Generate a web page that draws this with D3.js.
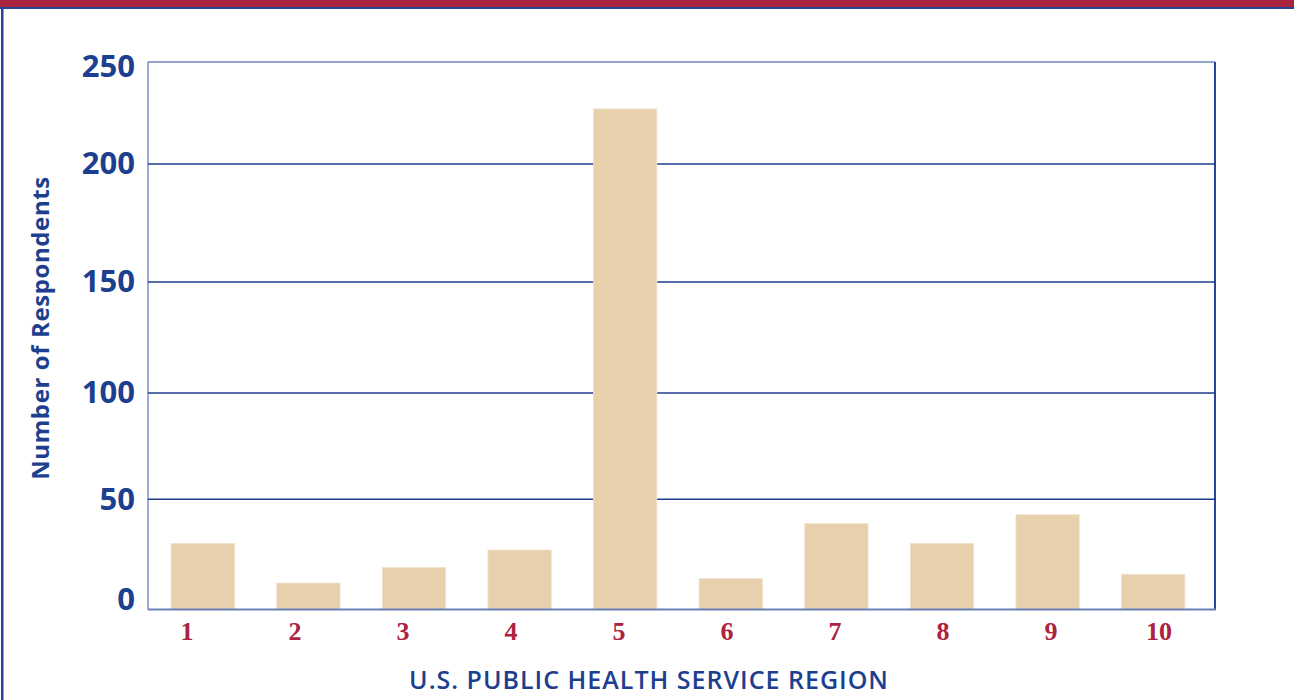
<!DOCTYPE html>
<html><head><meta charset="utf-8">
<script src="https://cdn.jsdelivr.net/npm/d3@7"></script>
<style>html,body{margin:0;padding:0;background:#fff;}svg{display:block;}</style>
</head><body>
<script>
const regions = ["1","2","3","4","5","6","7","8","9","10"];
const respondents = [30, 12, 19, 27, 227, 14, 39, 30, 43, 16];
const yTicks = [0, 50, 100, 150, 200, 250];
const yTitle = "Number of Respondents";
const xTitle = "U.S. PUBLIC HEALTH SERVICE REGION";

const W = 1294, H = 700;
const blue = "#1d3f8f", red = "#ac2240", bar = "#e7d1ac";
const svg = d3.select("body").append("svg").attr("width", W).attr("height", H);

// page frame
svg.append("rect").attr("x",0).attr("y",0).attr("width",W).attr("height",7).attr("fill","#a8263d");
svg.append("rect").attr("x",0).attr("y",7).attr("width",W).attr("height",2).attr("fill","#25449a");
svg.append("rect").attr("x",1).attr("y",7).attr("width",2.5).attr("height",H-7).attr("fill","#25449a");

const L = 148, R = 1215, T = 62, B = 609.5;
// the reference grid is slightly uneven; piecewise-linear scale reproduces it
const y = d3.scaleLinear().domain(yTicks).range([B, 499.3, 393, 282, 164, T]);
const x = d3.scaleBand().domain(regions).range([150, 1206]).paddingInner(0.4).paddingOuter(0.2);
const xl = d3.scalePoint().domain(regions).range([187, 1159]);

// frame
svg.append("line").attr("x1",L).attr("x2",L).attr("y1",T).attr("y2",B).attr("stroke","#5a74b4").attr("stroke-width",1.2);
svg.append("line").attr("x1",L).attr("x2",R).attr("y1",T).attr("y2",T).attr("stroke","#2d4b9c").attr("stroke-width",1.2);
svg.append("line").attr("x1",R).attr("x2",R).attr("y1",T).attr("y2",B).attr("stroke","#25449a").attr("stroke-width",2);

// gridlines
svg.append("g").selectAll("line").data(yTicks.filter(d => d > 0 && d < 250)).join("line")
  .attr("x1",L).attr("x2",R).attr("y1",d=>y(d)).attr("y2",d=>y(d))
  .attr("stroke","#1f3d8c").attr("stroke-width",1.5);

// bars
svg.append("g").selectAll("rect").data(regions).join("rect")
  .attr("x", d => x(d)).attr("width", x.bandwidth())
  .attr("y", (d,i) => y(respondents[i])).attr("height", (d,i) => y(0) - y(respondents[i]))
  .attr("fill", bar).attr("stroke","#f1e3cb").attr("stroke-width",0.8);

// baseline
svg.append("line").attr("x1",L).attr("x2",R+1).attr("y1",B).attr("y2",B).attr("stroke","#6a80b8").attr("stroke-width",2.2);

// y tick labels
svg.append("g").selectAll("text").data(yTicks).join("text")
  .attr("x", 135).attr("y", d => y(d) + (d===250 ? 7 : d===0 ? -8 : 2))
  .attr("text-anchor","end").attr("dominant-baseline","middle")
  .attr("font-family","'Open Sans', sans-serif").attr("font-weight",700).attr("font-size",31)
  .attr("fill", blue).text(d => d);

// x tick labels
svg.append("g").selectAll("text").data(regions).join("text")
  .attr("x", d => xl(d)).attr("y", 640)
  .attr("text-anchor","middle")
  .attr("font-family","'Liberation Serif', serif").attr("font-weight",700).attr("font-size",26)
  .attr("fill", red).text(d => d);

// titles
svg.append("text").attr("transform","translate(49,328) rotate(-90)")
  .attr("text-anchor","middle").attr("font-family","'Open Sans', sans-serif").attr("font-weight",700)
  .attr("font-size",24).attr("letter-spacing",0.6).attr("fill", blue).text(yTitle);
svg.append("text").attr("x",649).attr("y",689).attr("text-anchor","middle")
  .attr("font-family","'Open Sans', sans-serif").attr("font-weight",600)
  .attr("font-size",25).attr("letter-spacing",1).attr("fill", blue).text(xTitle);
</script>
</body></html>
